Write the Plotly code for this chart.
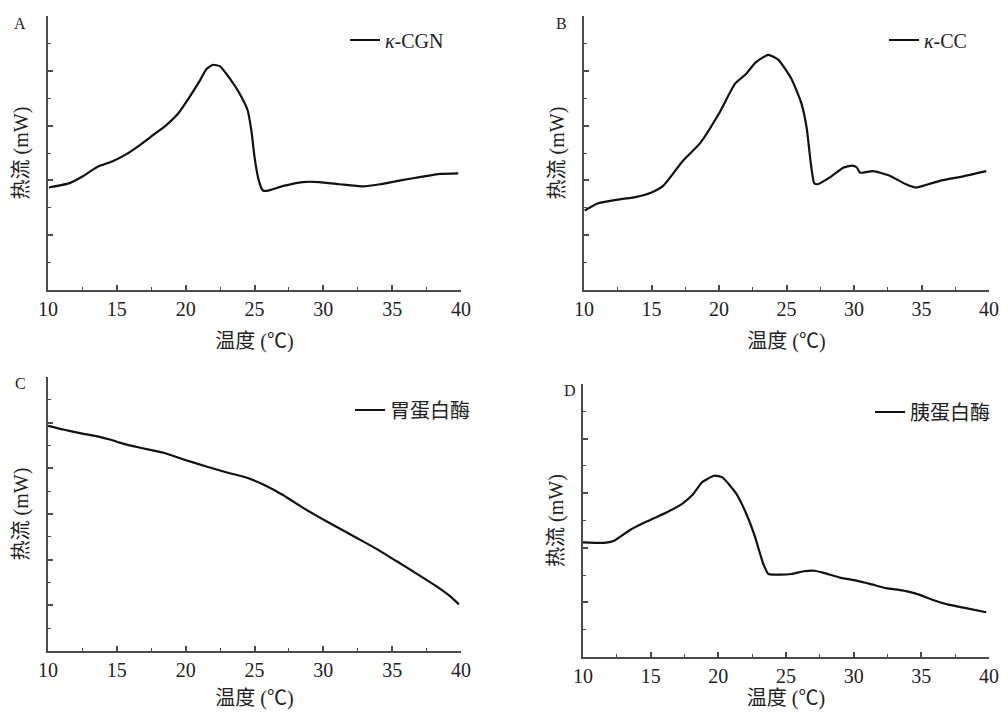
import plotly.graph_objects as go

# ---------------- data ----------------
temp_a = [10.07, 11.57, 12.5, 13.6, 14.7, 15.7, 16.7, 17.6, 18.6, 19.45, 20.3, 21.05, 21.5, 22.0,
          22.5, 23.2, 23.9, 24.5, 24.8, 25.0, 25.3, 25.6, 25.9, 27.1, 28.5, 29.7, 31.2, 32.9,
          34.1, 35.6, 37.0, 38.5, 39.8]
heat_a = [1.87, 1.95, 2.07, 2.25, 2.35, 2.48, 2.65, 2.82, 3.01, 3.22, 3.53, 3.83, 4.03, 4.11,
          4.08, 3.86, 3.59, 3.28, 2.86, 2.43, 2.01, 1.82, 1.81, 1.90, 1.97, 1.97, 1.93, 1.89,
          1.93, 2.00, 2.06, 2.12, 2.13]

temp_b = [10.05, 11.0, 12.5, 13.9, 15.0, 15.9, 17.3, 18.6, 20.0, 21.2, 22.0, 22.7, 23.65, 24.4,
          25.35, 26.1, 26.5, 26.8, 27.05, 27.3, 28.3, 29.2, 29.85, 30.2, 30.45, 31.4, 32.6,
          33.85, 34.6, 35.5, 36.5, 38.0, 39.8]
heat_b = [1.45, 1.58, 1.65, 1.70, 1.78, 1.91, 2.35, 2.68, 3.22, 3.77, 3.94, 4.15, 4.29, 4.20,
          3.86, 3.41, 2.95, 2.31, 1.95, 1.93, 2.07, 2.23, 2.27, 2.24, 2.14, 2.17, 2.09,
          1.93, 1.87, 1.93, 2.00, 2.07, 2.17]

temp_c = [10.0, 11.1, 12.5, 13.75, 14.5, 15.45, 16.7, 18.4, 19.8, 21.5, 23.0, 24.4, 25.6, 27.1,
          28.5, 29.75, 30.95, 32.4, 33.9, 35.3, 36.8, 38.2, 39.2, 39.85]
heat_c = [4.93, 4.85, 4.76, 4.69, 4.63, 4.54, 4.45, 4.34, 4.20, 4.04, 3.91, 3.80, 3.65, 3.41,
          3.14, 2.92, 2.72, 2.48, 2.23, 1.97, 1.69, 1.42, 1.20, 1.02]

temp_d = [10.0, 11.55, 12.3, 13.5, 14.7, 16.2, 17.4, 18.1, 18.8, 19.7, 20.3, 21.3, 22.0, 22.7,
          23.3, 23.7, 24.4, 25.4, 26.3, 27.1, 27.8, 29.05, 30.2, 31.2, 32.4, 33.6, 34.6, 35.8,
          37.0, 38.2, 39.8]
heat_d = [2.10, 2.09, 2.13, 2.33, 2.48, 2.65, 2.82, 2.97, 3.20, 3.32, 3.29, 3.00, 2.66, 2.21,
          1.72, 1.52, 1.51, 1.52, 1.57, 1.58, 1.54, 1.45, 1.40, 1.34, 1.26, 1.22, 1.16, 1.05,
          0.96, 0.90, 0.82]

series_names = ["<i>κ</i>-CGN", "<i>κ</i>-CC", "胃蛋白酶", "胰蛋白酶"]
panel_letters = ["A", "B", "C", "D"]
x_title = "温度 (℃)"
y_title = "热流 (mW)"
x_ticks = [10, 15, 20, 25, 30, 35, 40]
y_max = [5, 5, 6, 5]

# ---------------- layout ----------------
# page body has an 8px margin; work in screen pixels and convert
OFF = 8
W, H = 1000, 702
FONT = "Liberation Serif, Noto Sans CJK SC, serif"
AXC = "#4a4a4a"
TXT = "#222222"

def px_x(p):
    return (p - OFF) / W

def px_y(p):
    return 1 - (p - OFF) / H

# panel boxes in screen pixels: (left, right, top, bottom)
boxes = [(48, 461, 16, 290), (584, 989, 16, 290), (48, 461, 377, 651), (583, 989, 384, 657)]
legend_text_start = [(385, 40), (924, 40), (390, 410), (910, 412)]
letter_pos = [(20, 23), (561, 23), (20, 383), (570, 390)]

fig = go.Figure()
data = [(temp_a, heat_a), (temp_b, heat_b), (temp_c, heat_c), (temp_d, heat_d)]
for i, (tx, hy) in enumerate(data):
    sfx = "" if i == 0 else str(i + 1)
    fig.add_trace(go.Scatter(
        x=tx, y=hy, mode="lines", name=series_names[i],
        line=dict(color="#111111", width=2.2, shape="spline", smoothing=0.5),
        xaxis="x" + sfx, yaxis="y" + sfx,
        legend="legend" + sfx, showlegend=True,
    ))

layout = dict(
    width=W, height=H,
    margin=dict(l=0, r=0, t=0, b=0),
    paper_bgcolor="white", plot_bgcolor="white",
    font=dict(family=FONT, size=19, color=TXT),
    template="none",
    annotations=[],
)

for i in range(4):
    sfx = "" if i == 0 else str(i + 1)
    l, r, t, b = boxes[i]
    layout["xaxis" + sfx] = dict(
        domain=[px_x(l), px_x(r)], anchor="y" + sfx, range=[10, 40],
        tickmode="array", tickvals=x_ticks, ticktext=[str(v) for v in x_ticks],
        ticks="inside", ticklen=5, tickwidth=1.5, tickcolor=AXC,
        minor=dict(dtick=2.5, ticks="inside", ticklen=3, tickcolor=AXC, tickwidth=1.2),
        showline=True, linecolor=AXC, linewidth=2, showgrid=False, zeroline=False,
        tickfont=dict(family=FONT, size=20, color=TXT), ticklabeloverflow="allow",
        title=dict(text=x_title, font=dict(family=FONT, size=20, color=TXT), standoff=15),
        automargin=False, fixedrange=True,
    )
    layout["yaxis" + sfx] = dict(
        domain=[px_y(b), px_y(t)], anchor="x" + sfx, range=[0, y_max[i]],
        dtick=1, tick0=0, showticklabels=False,
        ticks="inside", ticklen=5, tickwidth=1.5, tickcolor=AXC,
        minor=dict(dtick=0.5, ticks="inside", ticklen=3, tickcolor=AXC, tickwidth=1.2),
        showline=True, linecolor=AXC, linewidth=2, showgrid=False, zeroline=False,
        title=dict(text=y_title, font=dict(family=FONT, size=20, color=TXT), standoff=12),
        automargin=False, fixedrange=True,
    )
    lx, ly = legend_text_start[i]
    layout["legend" + sfx] = dict(
        x=px_x(lx - 40), y=px_y(ly), xanchor="left", yanchor="middle",
        bgcolor="rgba(0,0,0,0)", borderwidth=0,
        font=dict(family=FONT, size=20, color=TXT),
    )
    ax, ay = letter_pos[i]
    layout["annotations"].append(dict(
        text=panel_letters[i], x=px_x(ax), y=px_y(ay), xref="paper", yref="paper",
        showarrow=False, xanchor="center", yanchor="middle",
        font=dict(family=FONT, size=16, color=TXT),
    ))

fig.update_layout(**layout)
fig.write_html("out.html")
